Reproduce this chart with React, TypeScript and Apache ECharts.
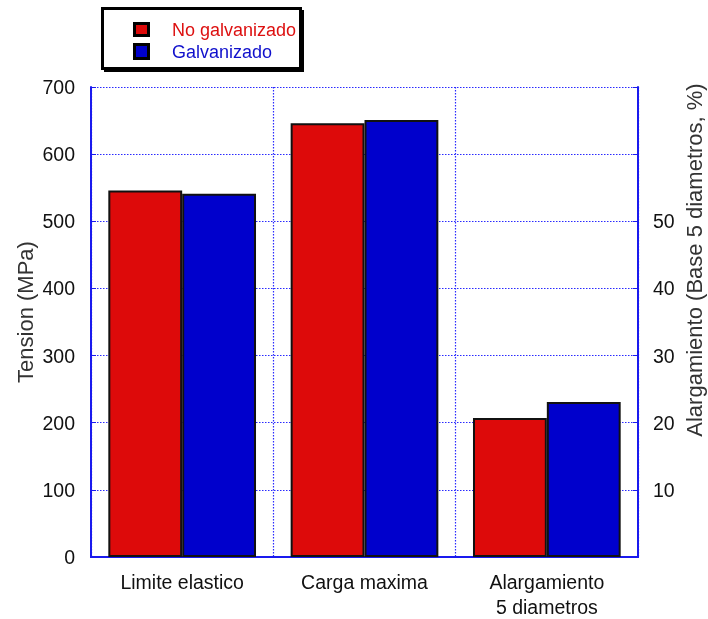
import React, { useEffect, useRef } from "react";
import * as echarts from "echarts";

const categories = ["Limite elastico", "Carga maxima", "Alargamiento\n5 diametros"];
const seriesNames = ["No galvanizado", "Galvanizado"];
// Tension (MPa), left axis
const tensionNoGalv: (number | null)[] = [546, 646, null];
const tensionGalv: (number | null)[] = [541, 651, null];
// Alargamiento (%), right axis
const elongNoGalv: (number | null)[] = [null, null, 20.7];
const elongGalv: (number | null)[] = [null, null, 23.1];
const leftTicks = { min: 0, max: 700, interval: 100 };
const rightTicks = { min: 0, max: 70, interval: 10, shownMin: 10, shownMax: 50 };

const RED = "#dd0a0a";
const BLUE = "#0000cc";
const FRAME = "#1a1aee";
const GRID = "#2a2aff";
const FONT = "Liberation Sans, Arial, sans-serif";

const toData = (a: (number | null)[]) => a.map((v) => (v === null ? "-" : v));

export default function App() {
  const ref = useRef<HTMLDivElement>(null);
  useEffect(() => {
    if (!ref.current) return;
    const chart = echarts.init(ref.current, null, { renderer: "svg" });
    const barCommon = (color: string) => ({
      type: "bar" as const,
      barGap: "0%",
      barCategoryGap: "19%",
      itemStyle: { color, borderColor: "#111", borderWidth: 2 },
      emphasis: { disabled: true },
    });
    const gridLine = { color: GRID, type: [1.5, 1.5], width: 1.2 };
    chart.setOption({
      animation: false,
      textStyle: { fontFamily: FONT },
      grid: { left: 91, right: 70, top: 87, bottom: 61 },
      xAxis: [
        {
          type: "category",
          data: categories,
          position: "bottom",
          axisLine: { lineStyle: { color: FRAME, width: 2 } },
          axisTick: { show: false },
          axisLabel: { color: "#111", fontSize: 19.5, fontFamily: FONT, margin: 12, lineHeight: 25 },
          splitLine: { show: true, lineStyle: gridLine },
        },
        {
          type: "category",
          data: categories,
          position: "top",
          axisLine: { lineStyle: { color: FRAME, width: 2 } },
          axisTick: { show: false },
          axisLabel: { show: false },
          splitLine: { show: false },
        },
      ],
      yAxis: [
        {
          type: "value",
          position: "left",
          min: leftTicks.min,
          max: leftTicks.max,
          interval: leftTicks.interval,
          axisLine: { show: true, lineStyle: { color: FRAME, width: 2 } },
          axisTick: { show: true, inside: true, length: 5, lineStyle: { color: FRAME } },
          axisLabel: { color: "#111", fontSize: 19.5, fontFamily: FONT, margin: 16 },
          splitLine: { show: true, lineStyle: gridLine },
        },
        {
          type: "value",
          position: "right",
          min: rightTicks.min,
          max: rightTicks.max,
          interval: rightTicks.interval,
          axisLine: { show: true, lineStyle: { color: FRAME, width: 2 } },
          axisTick: { show: true, inside: true, length: 5, lineStyle: { color: FRAME } },
          axisLabel: {
            color: "#111",
            fontSize: 19.5,
            fontFamily: FONT,
            margin: 15,
            formatter: (v: number) => (v >= rightTicks.shownMin && v <= rightTicks.shownMax ? String(v) : ""),
          },
          splitLine: { show: false },
        },
      ],
      series: [
        { ...barCommon(RED), name: seriesNames[0], xAxisIndex: 0, yAxisIndex: 0, data: toData(tensionNoGalv) },
        { ...barCommon(BLUE), name: seriesNames[1], xAxisIndex: 0, yAxisIndex: 0, data: toData(tensionGalv) },
        { ...barCommon(RED), name: seriesNames[0], xAxisIndex: 1, yAxisIndex: 1, data: toData(elongNoGalv) },
        { ...barCommon(BLUE), name: seriesNames[1], xAxisIndex: 1, yAxisIndex: 1, data: toData(elongGalv) },
      ],
      graphic: [
        {
          type: "text",
          x: 25,
          y: 312,
          rotation: Math.PI / 2,
          style: {
            text: "Tension (MPa)",
            fill: "#333",
            fontSize: 22,
            fontFamily: FONT,
            align: "center",
            verticalAlign: "middle",
          },
        },
        {
          type: "text",
          x: 694,
          y: 260,
          rotation: Math.PI / 2,
          style: {
            text: "Alargamiento (Base 5 diametros, %)",
            fill: "#333",
            fontSize: 22,
            fontFamily: FONT,
            align: "center",
            verticalAlign: "middle",
          },
        },
        { type: "rect", shape: { x: 104, y: 10, width: 200, height: 62 }, style: { fill: "#000" } },
        {
          type: "rect",
          shape: { x: 102.5, y: 8.5, width: 198, height: 60 },
          style: { fill: "#fff", stroke: "#000", lineWidth: 3 },
        },
        {
          type: "rect",
          shape: { x: 134.5, y: 23.5, width: 14, height: 12 },
          style: { fill: RED, stroke: "#000", lineWidth: 3 },
        },
        {
          type: "rect",
          shape: { x: 134.5, y: 44.5, width: 14, height: 14 },
          style: { fill: BLUE, stroke: "#000", lineWidth: 3 },
        },
        {
          type: "text",
          x: 172,
          y: 30,
          style: { text: seriesNames[0], fill: "#dd1010", fontSize: 18, fontFamily: FONT, verticalAlign: "middle" },
        },
        {
          type: "text",
          x: 172,
          y: 52,
          style: { text: seriesNames[1], fill: "#1010cc", fontSize: 18, fontFamily: FONT, verticalAlign: "middle" },
        },
      ],
    });
    return () => chart.dispose();
  }, []);
  return <div ref={ref} style={{ position: "fixed", left: 0, top: 0, width: 708, height: 619 }} />;
}
